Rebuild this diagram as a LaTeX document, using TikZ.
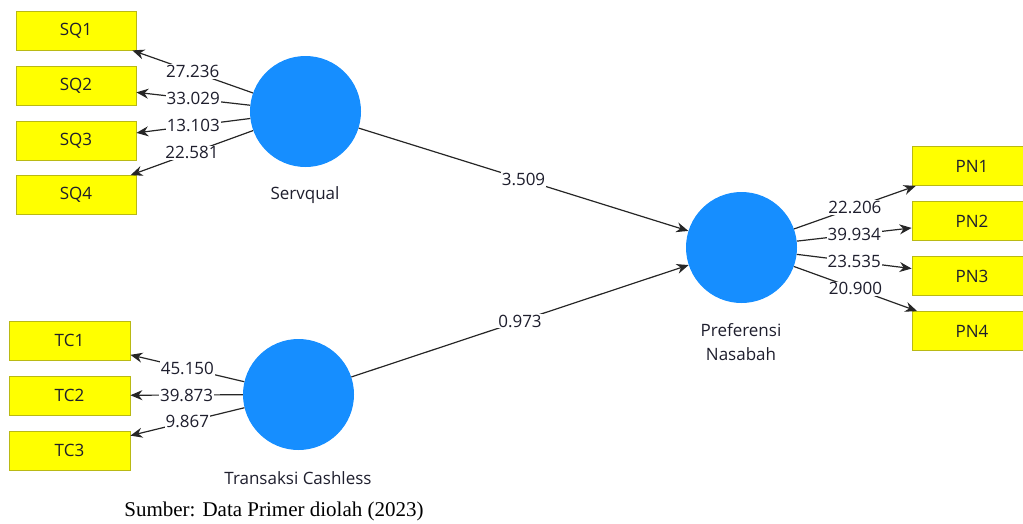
\documentclass[tikz,border=0pt]{standalone}
\usepackage{fontspec}
\setmainfont{Open Sans}
\newfontfamily\capfont{Liberation Serif}
\usetikzlibrary{arrows.meta}
\definecolor{boxyellow}{RGB}{255,255,0}
\definecolor{boxedge}{RGB}{185,185,20}
\definecolor{lvblue}{RGB}{22,142,255}
\definecolor{txt}{RGB}{30,30,45}
\begin{document}
\begin{tikzpicture}[x=1pt,y=-1pt,
  ind/.style={draw=boxedge,fill=boxyellow,minimum width=120pt,minimum height=39pt,
    inner sep=0pt,line width=0.8pt,text=txt,font=\fontsize{17}{19}\selectfont},
  lv/.style={circle,fill=lvblue,minimum size=111pt,inner sep=0pt},
  lvname/.style={text=txt,align=center,font=\fontsize{17}{24}\selectfont},
  arr/.style={-{Stealth[length=12pt,width=10pt]},line width=1.2pt,draw=black!85},
  lbl/.style={fill=white,inner sep=1pt,text=txt,font=\fontsize{17}{19}\selectfont}]
\useasboundingbox (0,0) rectangle (1023,523);
\clip (0,0) rectangle (1023,523);

% latent variables
\node[lv] (serv) at (305.5,111.5) {};
\node[lv] (tc)   at (298.5,394.5) {};
\node[lv] (pn)   at (741.5,247.5) {};
\node[lvname] (servname) at (305,195) {Servqual};
\node[lvname] (tcname) at (298,478) {Transaksi Cashless};
\node[lvname] (pnname) at (741,342) {Preferensi\\Nasabah};

% indicators
\node[ind] (sq1) at (76,30.5) {SQ1};
\node[ind] (sq2) at (76,85.5) {SQ2};
\node[ind] (sq3) at (76,140.5) {SQ3};
\node[ind] (sq4) at (76,195) {SQ4};
\node[ind,minimum width=121pt] (tc1) at (69.5,340.5) {TC1};
\node[ind,minimum width=121pt] (tc2) at (69.5,395.5) {TC2};
\node[ind,minimum width=121pt] (tc3) at (69.5,450.5) {TC3};
\node[ind] (pn1) at (972,166) {PN1};
\node[ind] (pn2) at (972,221) {PN2};
\node[ind] (pn3) at (972,276) {PN3};
\node[ind] (pn4) at (972,331) {PN4};

% outer loadings
\draw[arr] (serv) -- node[lbl] {27.236} (sq1);
\draw[arr] (serv) -- node[lbl] {33.029} (sq2);
\draw[arr] (serv) -- node[lbl] {13.103} (sq3);
\draw[arr] (serv) -- node[lbl] {22.581} (sq4);
\draw[arr] (tc) -- node[lbl] {45.150} (tc1);
\draw[arr] (tc) -- node[lbl] {39.873} (tc2);
\draw[arr] (tc) -- node[lbl] {9.867} (tc3);
\draw[arr] (pn) -- node[lbl] {22.206} (pn1);
\draw[arr] (pn) -- node[lbl] {39.934} (pn2);
\draw[arr] (pn) -- node[lbl] {23.535} (pn3);
\draw[arr] (pn) -- node[lbl] {20.900} (pn4);

% path coefficients
\draw[arr] (serv) -- node[lbl] {3.509} (pn);
\draw[arr] (tc) -- node[lbl] {0.973} (pn);

% source
\node[font=\capfont\fontsize{21}{23}\selectfont] (src) at (274,511) {Sumber: Data Primer diolah (2023)};
\end{tikzpicture}
\end{document}
